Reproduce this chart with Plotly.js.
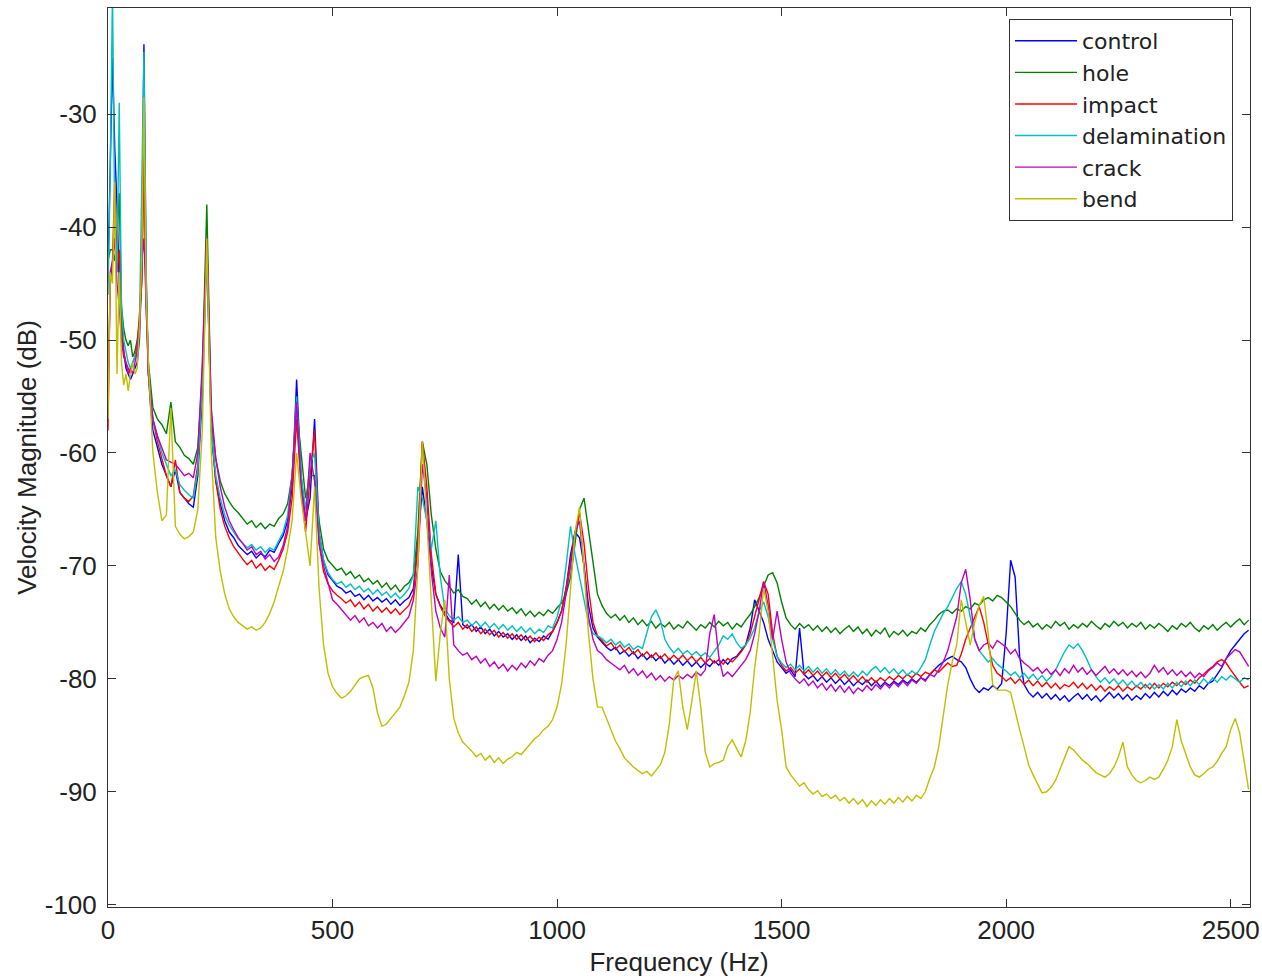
<!DOCTYPE html>
<html>
<head>
<meta charset="utf-8">
<script src="https://cdn.plot.ly/plotly-3.0.1.min.js"></script>
<style>
html,body{margin:0;padding:0;background:#fff;}
#chart{width:1262px;height:978px;}
</style>
</head>
<body>
<div id="chart"></div>
<script>
// Frequency axis (Hz)
const freq = [
0,5,10,15,20,25,30,35,40,45,50,55,60,65,70,75,80,85,90,95,
100,110,120,130,140,150,160,170,180,190,
200,210,220,230,240,250,260,270,280,290,
300,310,320,330,340,350,360,370,380,390,
400,410,420,430,440,450,460,470,480,490,
500,510,520,530,540,550,560,570,580,590,
600,610,620,630,640,650,660,670,680,690,
700,710,720,730,740,750,760,770,780,790,
800,810,820,830,840,850,860,870,880,890,
900,910,920,930,940,950,960,970,980,990,
1000,1010,1020,1030,1040,1050,1060,1070,1080,1090,
1100,1110,1120,1130,1140,1150,1160,1170,1180,1190,
1200,1210,1220,1230,1240,1250,1260,1270,1280,1290,
1300,1310,1320,1330,1340,1350,1360,1370,1380,1390,
1400,1410,1420,1430,1440,1450,1460,1470,1480,1490,
1500,1510,1520,1530,1540,1550,1560,1570,1580,1590,
1600,1610,1620,1630,1640,1650,1660,1670,1680,1690,
1700,1710,1720,1730,1740,1750,1760,1770,1780,1790,
1800,1810,1820,1830,1840,1850,1860,1870,1880,1890,
1900,1910,1920,1930,1940,1950,1960,1970,1980,1990,
2000,2010,2020,2030,2040,2050,2060,2070,2080,2090,
2100,2110,2120,2130,2140,2150,2160,2170,2180,2190,
2200,2210,2220,2230,2240,2250,2260,2270,2280,2290,
2300,2310,2320,2330,2340,2350,2360,2370,2380,2390,
2400,2410,2420,2430,2440,2450,2460,2470,2480,2490,
2500,2510,2520,2530,2540
];

const control = [
-44,-35,-25,-33,-38,-45,-48,-51,-52.5,-53,-53.5,-53,-52.5,-52,-50,-44,-23.8,-44,-53,-56,
-58,-59.5,-61,-62,-63,-61.5,-63.5,-64,-64.5,-64.8,
-62,-55,-42,-58,-62.5,-64.5,-66,-67,-67.5,-68.2,
-68.6,-69,-68.7,-69.3,-68.9,-69.2,-68.6,-68.8,-68,-67.3,
-66,-63,-53.5,-62,-66,-64,-57,-67,-69.5,-70.8,
-71.3,-71.8,-72,-72.4,-72.2,-72.7,-72.5,-73,-72.6,-73.1,
-72.8,-73.2,-72.9,-73.4,-73,-73.5,-73.1,-72.8,-72,-68,
-63,-66,-70,-72.5,-73.5,-74.2,-74.8,-75,-69,-75.2,
-75.5,-75.2,-75.8,-75.4,-76,-75.6,-76.2,-75.8,-76.3,-76,
-76.5,-76.1,-76.6,-76.2,-76.8,-76.4,-76.7,-76.2,-76.5,-75.8,
-75,-74,-72,-69,-67,-67.5,-70,-73.5,-75.5,-76.3,
-76.8,-77.2,-77.5,-77.2,-77.8,-77.5,-78,-77.6,-78.2,-77.8,
-78.3,-77.9,-78.4,-78,-78.6,-78.2,-78.7,-78.3,-78.8,-78.4,
-78.9,-78.5,-79,-78.6,-78.9,-78.4,-78.8,-78.3,-78.7,-78.2,
-78,-77.5,-77,-75.5,-73,-74,-75,-76.5,-77.5,-78.5,
-79,-79.5,-79.2,-79.8,-75.5,-79.6,-80,-79.7,-80.2,-79.8,
-80.3,-79.9,-80.4,-80,-80.5,-80.1,-80.6,-80.2,-80.5,-80.1,
-80.6,-80.2,-80.7,-80.3,-80.6,-80.2,-80.5,-80.1,-80.4,-80,
-80.3,-79.9,-80.1,-79.6,-79.2,-78.8,-78.5,-78.2,-78,-78.3,
-78.5,-79,-80,-80.8,-81.2,-80.8,-81,-80.6,-80.9,-80.4,
-76,-69.5,-71,-78,-80.5,-81.2,-81.6,-81.2,-81.7,-81.3,
-81.8,-81.4,-81.9,-81.5,-82,-81.6,-81.3,-81.8,-81.4,-81.9,
-81.5,-82,-81.6,-81.2,-81.7,-81.3,-81.8,-81.4,-81.9,-81.5,
-81.8,-81.3,-81.7,-81.2,-81.6,-81.1,-81.5,-81,-81.4,-80.9,
-81.2,-80.8,-81.1,-80.6,-80.9,-80.4,-80.2,-79.6,-79,-78.2,
-77.5,-77,-76.5,-76,-75.7
];

const hole = [
-43,-42,-42,-43,-41,-37,-47,-49,-50,-50.5,-50,-51.5,-51,-50,-48.5,-45,-33,-46,-52,-54,
-56,-57,-57.5,-58.3,-55.5,-59,-59.5,-60.2,-60.5,-61,
-59.5,-53,-38,-57,-60.5,-62.5,-63.6,-64.3,-64.9,-65.3,
-65.8,-66.3,-66,-66.6,-66.2,-66.7,-66.3,-66.5,-65.8,-65.4,
-64.5,-62,-56,-60,-64,-62,-62,-66,-68.5,-69.5,
-70,-70.4,-70.2,-70.8,-70.5,-71.1,-70.8,-71.4,-71.1,-71.6,
-71.3,-71.9,-71.5,-72.1,-71.7,-72.3,-71.8,-71.5,-70.8,-67,
-59,-61,-65.5,-68.5,-70.5,-71.3,-71.8,-72.4,-72.1,-72.7,
-72.9,-73.4,-73,-73.6,-73.2,-73.8,-73.4,-73.9,-73.5,-74,
-73.7,-74.2,-73.8,-74.4,-74,-74.5,-74.1,-74.4,-73.9,-74.2,
-73.7,-73.3,-72.5,-71,-68,-65,-64,-67,-70,-72.5,
-73.5,-74.2,-74.6,-74.3,-74.8,-74.4,-75,-74.6,-75.2,-74.8,
-75.3,-74.9,-75.5,-75.1,-75.4,-75,-75.6,-75.2,-75.5,-74.9,
-75.3,-75.7,-75.2,-75.5,-75,-75.4,-74.9,-75.3,-75,-75.6,
-75.1,-75.4,-74.8,-74.3,-73.6,-72.8,-71.8,-70.8,-70.6,-71.5,
-73.2,-74.6,-75.2,-75.6,-75.1,-75.5,-75.2,-75.7,-75.3,-75.8,
-75.4,-75.9,-75.5,-76,-75.6,-75.3,-75.8,-75.4,-76,-75.6,
-76.2,-75.7,-76,-75.5,-76.3,-75.8,-76.1,-75.7,-76.2,-75.8,
-76,-75.5,-75.8,-75.2,-74.8,-74.3,-74,-73.9,-74.2,-73.8,
-74,-73.6,-73.8,-73.3,-73.5,-73,-72.8,-73.1,-72.6,-72.8,
-73.2,-73.6,-74.2,-74.8,-75.2,-74.9,-75.4,-75.1,-75.6,-75.2,
-75.5,-74.9,-75.3,-75,-75.6,-75.2,-75.5,-75.1,-75.4,-74.9,
-75.3,-75.6,-75.1,-75.4,-74.9,-75.3,-75,-75.5,-75.1,-75.4,
-75,-75.6,-75.2,-75.5,-75.1,-75.4,-75.8,-75.3,-75.6,-75.1,
-75.4,-75,-75.5,-75.8,-75.3,-75.6,-75.2,-75.7,-75.3,-75,
-75.4,-75,-74.7,-75.2,-74.8
];

const impact = [
-58,-44,-43,-36,-44,-42,-49,-51,-52,-52.5,-53,-52,-51.5,-50.5,-48,-45,-34,-47,-53,-55.5,
-57,-59,-60.5,-62,-63,-60.6,-63.5,-64,-64.3,-63.8,
-61,-54,-41,-58,-62.5,-65,-66.5,-67.5,-68.3,-68.9,
-69.4,-69.9,-69.5,-70.2,-69.8,-70.4,-70,-70.3,-69.5,-68.5,
-67,-64,-57,-63,-67,-62,-58,-68,-70.5,-71.6,
-72.2,-72.6,-72.9,-73.3,-73,-73.6,-73.2,-73.8,-73.4,-74,
-73.6,-74.1,-73.7,-74.2,-73.8,-74.3,-73.9,-73.5,-72.5,-68,
-59,-63,-69,-72.5,-73.6,-74.4,-74.9,-75.4,-75,-75.6,
-75.2,-75.8,-75.4,-76,-75.6,-76.1,-75.7,-76.3,-75.9,-76.4,
-76,-76.5,-76.1,-76.6,-76.2,-76.7,-76.3,-76.6,-76.1,-75.8,
-75,-74,-72,-69.5,-67,-65.3,-68,-72,-75,-76.2,
-76.6,-77.1,-76.8,-77.4,-77,-77.6,-77.2,-77.8,-77.4,-78,
-77.6,-78.1,-77.7,-78.2,-77.8,-78.3,-77.9,-78.3,-77.9,-78.4,
-78,-78.5,-78.1,-78.6,-78.2,-78.6,-78.3,-78.7,-78.2,-78.5,
-78.1,-77.6,-77,-76,-74.5,-73,-71.4,-72.5,-76,-78,
-78.8,-79.3,-79,-79.5,-79.1,-79.6,-79.2,-79.7,-79.3,-79.8,
-79.4,-79.9,-79.5,-80,-79.6,-80.1,-79.7,-80.2,-79.8,-80.3,
-79.9,-80.3,-79.9,-80.2,-79.8,-80.1,-79.7,-80,-79.6,-79.9,
-79.5,-79.8,-79.4,-79.6,-79.2,-79.4,-79,-78.6,-78.9,-78.8,
-77.8,-76.5,-75.5,-74.5,-73.6,-75,-77,-78.8,-79.5,-79.8,
-80.2,-79.9,-80.4,-80,-80.5,-80.1,-80.6,-80.2,-80.7,-80.3,
-80.8,-80.4,-80.9,-80.5,-80.7,-80.3,-80.8,-80.4,-80.9,-80.5,
-81,-80.6,-81.1,-80.7,-81,-80.6,-81.1,-80.7,-81,-80.6,
-80.9,-80.5,-80.9,-80.4,-80.8,-80.4,-80.7,-80.3,-80.6,-80.2,
-80.5,-80.1,-80.4,-79.9,-79.6,-79.2,-78.9,-78.5,-78.3,-78.6,
-79.2,-79.8,-80.3,-80.8,-80.6
];

const delamination = [
-46,-35,-19,-40,-44,-29,-47,-50,-51,-52,-52.5,-52,-51.5,-51,-49,-36,-24.5,-45,-53,-55,
-57,-58.5,-60,-61,-62,-61.5,-62.8,-63.3,-63.7,-64,
-61.5,-54,-42,-58,-62,-64,-65.5,-66.4,-67,-67.6,
-68,-68.4,-68.1,-68.6,-68.3,-68.8,-68.4,-68.6,-67.8,-67,
-65.5,-62,-55,-62,-65,-61,-60,-67,-69.5,-70.6,
-71.2,-71.6,-71.4,-71.9,-71.6,-72.1,-71.8,-72.3,-72,-72.5,
-72.1,-72.6,-72.3,-72.8,-72.4,-72.9,-72.5,-72,-70.8,-63,
-64,-66,-68.5,-66,-71,-73.8,-74.4,-74.8,-74.5,-75,
-74.8,-75.3,-74.9,-75.4,-75,-75.5,-75.1,-75.6,-75.2,-75.7,
-75.3,-75.8,-75.4,-75.9,-75.5,-76,-75.6,-75.9,-75.3,-75.5,
-74.5,-73,-70,-66.5,-69,-71,-73,-75,-76,-76.2,
-76.4,-76.8,-76.5,-77,-76.7,-77.2,-76.9,-77.4,-77.1,-77.3,
-76,-74.5,-73.9,-74.8,-76.5,-77.2,-77.7,-77.3,-77.8,-77.5,
-77.9,-77.6,-78,-77.7,-78.1,-77.5,-77,-76.2,-76.5,-76,
-76.8,-77.3,-77,-76.4,-75.5,-74,-73.2,-74.5,-76.5,-78,
-78.6,-79,-78.7,-79.2,-78.8,-79.3,-78.9,-79.4,-79,-79.5,
-79.1,-79.6,-79.2,-79.7,-79.3,-79.8,-79.4,-79.8,-79.3,-79.7,
-79.2,-78.9,-79.4,-79,-79.5,-79.1,-79.6,-79.2,-79.7,-79.3,
-79.6,-79,-78.3,-77,-75.8,-75,-74.2,-73.6,-72.8,-72,
-71.4,-72.5,-74.5,-76.5,-77.5,-78,-78.5,-78.2,-78.7,-79,
-79.3,-79.7,-79.4,-79.9,-79.5,-80,-79.6,-80.1,-79.7,-80.2,
-79.8,-79.2,-78.4,-77.6,-77,-77.3,-76.9,-77.5,-78.3,-79.2,
-79.8,-80.3,-79.9,-80.4,-80,-80.5,-80.1,-80.6,-80.2,-80.7,
-80.3,-80.8,-80.4,-80.9,-80.5,-80.9,-80.4,-80.8,-80.3,-80.7,
-80.2,-80.6,-80.1,-80.5,-80,-80.4,-79.9,-80.3,-79.8,-80.1,
-79.7,-80,-80.3,-79.9,-80.1
];

const crack = [
-55,-45,-43,-41,-45,-47,-50,-51.5,-52,-53,-52.5,-53,-52,-51,-49,-43,-41,-48,-53,-55,
-57,-58.5,-59.5,-60.6,-60.8,-61,-61.5,-62,-61.8,-62.2,
-60,-52,-41,-56,-60.5,-63,-64.8,-66,-66.8,-67.5,
-68,-68.6,-68.3,-69,-68.7,-69.4,-69,-69.6,-69.2,-68.2,
-66.5,-62,-55.5,-63,-66,-60,-62.5,-68,-70,-71.5,
-73,-73.4,-73.9,-74.3,-74.8,-74.4,-75,-74.6,-75.3,-75,
-75.5,-75.1,-75.8,-75.4,-75.9,-75.5,-75,-74.5,-73,-70,
-61,-64,-70.5,-74,-75.5,-76.3,-70.8,-77,-77.5,-77.9,
-77.7,-78.3,-78,-78.6,-78.2,-78.9,-78.5,-79.1,-78.7,-79.3,
-78.8,-79.2,-78.6,-79,-78.4,-78.8,-78.2,-78.5,-77.9,-77.5,
-76.5,-75,-72.5,-70,-67,-66,-70,-74.5,-76.5,-77.5,
-77.8,-78.3,-78.6,-78.9,-79.2,-78.8,-79.5,-79.1,-79.7,-79.3,
-79.9,-79.5,-80.1,-79.7,-80.2,-79.8,-80.1,-79.7,-80,-79.6,
-79.9,-79.4,-79.7,-79.2,-76,-74.3,-78,-79.8,-79.4,-79.8,
-79.3,-78.9,-78.3,-77.5,-76,-74,-71.4,-73.5,-76.5,-74,
-76.5,-78.5,-79.5,-80,-80.4,-80,-80.6,-80.2,-80.8,-80.4,
-81,-80.5,-81.1,-80.6,-81.2,-80.7,-81.3,-80.8,-81.1,-80.6,
-81,-80.5,-80.9,-80.4,-80.8,-80.3,-80.7,-80.2,-80.6,-80.1,
-80.4,-79.9,-80.2,-79.6,-79.8,-79.2,-78.5,-77.5,-76,-74.5,
-71.5,-70.3,-73,-76.5,-77.5,-77,-76.8,-77.3,-76.6,-76.9,
-77.2,-77.8,-77.4,-78.2,-78.6,-78.9,-79.3,-79,-79.5,-79.1,
-79.6,-79.2,-79.7,-79.1,-79.5,-78.8,-79.4,-79,-79.6,-79.2,
-79.7,-79.3,-78.9,-79.5,-79.1,-79.6,-79.2,-79.7,-79.3,-79.8,
-79.4,-79.9,-79.5,-78.8,-79.4,-79,-79.6,-79.2,-79.7,-79.3,
-79.8,-79.4,-79.9,-79.5,-79.8,-79.3,-79,-78.6,-78.9,-78.2,
-77.8,-77.4,-77.6,-78.3,-78.9
];

const bend = [
-57,-44,-45,-36,-53,-44,-52,-54,-53,-54.5,-53,-52,-53,-52.5,-49,-43,-28.5,-46,-52,-56,
-60,-63.5,-66,-65.5,-56,-66.5,-67.2,-67.6,-67.4,-67,
-65,-58,-41,-60,-67.5,-70.5,-72.5,-73.8,-74.5,-75,
-75.3,-75.6,-75.4,-75.7,-75.5,-75,-74.2,-73.2,-71.8,-70.5,
-68.5,-66,-60,-64,-67,-70,-63,-72,-77,-79.5,
-80.7,-81.3,-81.7,-81.5,-81.1,-80.5,-80,-79.8,-79.7,-80.8,
-83,-84.2,-84,-83.5,-83,-82.5,-81.5,-80.3,-77.5,-70,
-59,-66,-74,-80.2,-76,-73,-80,-83.5,-84.8,-85.6,
-86,-86.4,-86.9,-86.6,-87.2,-86.8,-87.4,-87,-87.5,-87.1,
-86.9,-86.5,-86.7,-86.2,-85.8,-85.3,-85,-84.5,-84.2,-83.6,
-82.5,-80.5,-77,-72,-67,-64.8,-70,-76,-80,-82.5,
-82.5,-83.5,-84.5,-85.5,-86.2,-87,-87.4,-87.8,-88.1,-88.4,
-88.2,-88.6,-88.1,-87.6,-86.5,-84,-80,-79.3,-82.5,-84.5,
-82,-79.3,-82.5,-86.5,-87.8,-87.5,-87.4,-87.2,-86,-85.4,
-86.2,-86.9,-85.5,-83,-79,-76,-72,-74,-78,-81.9,
-84.5,-87.8,-88.5,-89,-89.5,-89.2,-89.8,-90.2,-89.9,-90.4,
-90.2,-90.6,-90.3,-90.8,-90.5,-91,-90.6,-91.1,-90.7,-91.3,
-90.8,-91.2,-90.7,-91.1,-90.6,-91,-90.5,-90.9,-90.4,-90.8,
-90.3,-90.6,-90,-88.8,-87.8,-86,-83,-80.5,-78.5,-77,
-73,-75,-77,-75,-73.5,-72.7,-76,-80.5,-81,-81,
-81,-81.2,-83,-84.5,-86,-87.6,-88.5,-89.3,-90.1,-90,
-89.6,-89,-88,-87,-86,-86.3,-86.8,-87.2,-87.5,-87.9,
-88.3,-88.5,-88.7,-88.4,-87.8,-86.9,-85.6,-87.8,-88.5,-89,
-89.2,-89,-88.7,-88.9,-88.7,-88,-87.2,-86,-83.6,-85.5,
-86.6,-87.8,-88.5,-88.7,-88.4,-88,-87.8,-87.3,-86.6,-86,
-84.5,-83.5,-84.8,-87.5,-89.8
];

const seriesNames = ["control","hole","impact","delamination","crack","bend"];
const seriesData = [control, hole, impact, delamination, crack, bend];
const seriesColors = ["#0000ff","#008000","#ff0000","#00bfbf","#bf00bf","#bfbf00"];
const xTicks = [0,500,1000,1500,2000,2500];
const yTicks = [-100,-90,-80,-70,-60,-50,-40,-30];

const traces = seriesNames.map((name, i) => ({
  type: "scatter",
  mode: "lines",
  name: name,
  x: freq,
  y: seriesData[i],
  line: {color: seriesColors[i], width: 1.4},
  hoverinfo: "x+y+name"
}));

const fontFam = "'Liberation Sans', Arial, Helvetica, sans-serif";
const legendFam = "'DejaVu Sans', 'Liberation Sans', Arial, sans-serif";
const layout = {
  width: 1262,
  height: 978,
  margin: {l: 108, r: 12, t: 8, b: 71},
  paper_bgcolor: "#ffffff",
  plot_bgcolor: "#ffffff",
  font: {family: fontFam, size: 26, color: "#222"},
  showlegend: true,
  legend: {
    x: 0.9851, xanchor: "right",
    y: 0.9878, yanchor: "top",
    bgcolor: "#ffffff",
    bordercolor: "#333",
    borderwidth: 1,
    itemwidth: 62,
    font: {family: legendFam, size: 22, color: "#222"}
  },
  xaxis: {
    range: [0, 2543],
    tickvals: xTicks,
    ticktext: xTicks.map(String),
    ticks: "inside",
    ticklen: 8,
    tickcolor: "#333",
    showline: true,
    linecolor: "#333",
    linewidth: 1,
    mirror: "ticks",
    showgrid: false,
    zeroline: false,
    tickfont: {family: fontFam, size: 26, color: "#222"},
    title: {text: "Frequency (Hz)", font: {family: fontFam, size: 26, color: "#222"}, standoff: 8}
  },
  yaxis: {
    range: [-100.2, -20.6],
    tickvals: yTicks,
    ticktext: yTicks.map(String),
    ticks: "inside",
    ticklen: 8,
    tickcolor: "#333",
    showline: true,
    linecolor: "#333",
    linewidth: 1,
    mirror: "ticks",
    showgrid: false,
    zeroline: false,
    ticklabelstandoff: 5,
    tickfont: {family: fontFam, size: 26, color: "#222"},
    title: {text: "Velocity Magnitude (dB)", font: {family: fontFam, size: 26, color: "#222"}, standoff: 0}
  }
};

Plotly.newPlot("chart", traces, layout, {displayModeBar: false, staticPlot: true});
</script>
</body>
</html>
